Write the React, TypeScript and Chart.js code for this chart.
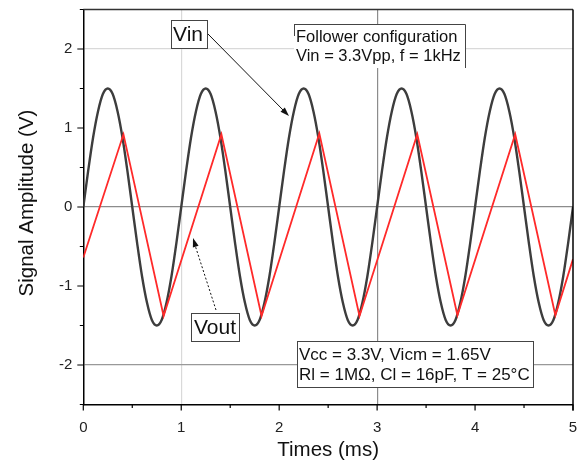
import { useEffect, useRef } from 'react';
import { Chart, registerables } from 'chart.js';

Chart.register(...registerables);

// ---- data ----
const VIN_STEP_MS = 0.05;
const vinValues = [
  0, 0.46, 0.88, 1.21, 1.43, 1.5, 1.43, 1.21, 0.88, 0.46,
  0, -0.46, -0.88, -1.21, -1.43, -1.5, -1.43, -1.21, -0.88, -0.46,
  0, 0.46, 0.88, 1.21, 1.43, 1.5, 1.43, 1.21, 0.88, 0.46,
  0, -0.46, -0.88, -1.21, -1.43, -1.5, -1.43, -1.21, -0.88, -0.46,
  0, 0.46, 0.88, 1.21, 1.43, 1.5, 1.43, 1.21, 0.88, 0.46,
  0, -0.46, -0.88, -1.21, -1.43, -1.5, -1.43, -1.21, -0.88, -0.46,
  0, 0.46, 0.88, 1.21, 1.43, 1.5, 1.43, 1.21, 0.88, 0.46,
  0, -0.46, -0.88, -1.21, -1.43, -1.5, -1.43, -1.21, -0.88, -0.46,
  0, 0.46, 0.88, 1.21, 1.43, 1.5, 1.43, 1.21, 0.88, 0.46,
  0, -0.46, -0.88, -1.21, -1.43, -1.5, -1.43, -1.21, -0.88, -0.46,
  0,
];
const voutTimes = [0, 0.41, 0.82, 1.41, 1.82, 2.41, 2.82, 3.41, 3.82, 4.41, 4.82, 5];
const voutValues = [-0.64, 0.92, -1.38, 0.92, -1.38, 0.93, -1.38, 0.92, -1.37, 0.92, -1.37, -0.66];

const xMajorTicks = [0, 1, 2, 3, 4, 5];
const xMinorTicks = [0.5, 1.5, 2.5, 3.5, 4.5];
const yMajorTicks = [-2, -1, 0, 1, 2];
const yMinorTicks = [-2.5, -1.5, -0.5, 0.5, 1.5, 2.5];

const xTitle = 'Times (ms)';
const yTitle = 'Signal Amplitude (V)';
const vinLabel = 'Vin';
const voutLabel = 'Vout';
const infoTopLines = ['Follower configuration', 'Vin = 3.3Vpp, f = 1kHz'];
const infoBottomLines = ['Vcc = 3.3V, Vicm = 1.65V', 'Rl = 1MΩ, Cl = 16pF, T = 25°C'];

const FONT = '"Liberation Sans", Arial, sans-serif';

function arrowHead(ctx: CanvasRenderingContext2D, x0: number, y0: number, x1: number, y1: number, len: number, w: number) {
  const a = Math.atan2(y1 - y0, x1 - x0);
  ctx.beginPath();
  ctx.moveTo(x1, y1);
  ctx.lineTo(x1 - len * Math.cos(a) + w * Math.sin(a), y1 - len * Math.sin(a) - w * Math.cos(a));
  ctx.lineTo(x1 - len * Math.cos(a) - w * Math.sin(a), y1 - len * Math.sin(a) + w * Math.cos(a));
  ctx.closePath();
  ctx.fill();
}

const decorPlugin = {
  id: 'decor',
  afterDraw(chart: any) {
    const { ctx, chartArea, scales } = chart;
    const { left, right, top, bottom } = chartArea;
    const xs = scales.x;
    const ys = scales.y;
    ctx.save();

    // frame top / right
    ctx.strokeStyle = '#333';
    ctx.lineWidth = 1.5;
    ctx.beginPath();
    ctx.moveTo(left, top);
    ctx.lineTo(right, top);
    ctx.stroke();
    ctx.strokeStyle = '#000';
    ctx.beginPath();
    ctx.moveTo(right, top);
    ctx.lineTo(right, bottom + 6);
    ctx.stroke();

    // ticks
    ctx.strokeStyle = '#000';
    ctx.lineWidth = 1.2;
    ctx.beginPath();
    for (const v of yMajorTicks) {
      const p = ys.getPixelForValue(v);
      ctx.moveTo(left - 6, p);
      ctx.lineTo(left, p);
    }
    for (const v of yMinorTicks) {
      const p = ys.getPixelForValue(v);
      ctx.moveTo(left - 3.5, p);
      ctx.lineTo(left, p);
    }
    for (const v of xMajorTicks) {
      const p = xs.getPixelForValue(v);
      ctx.moveTo(p, bottom);
      ctx.lineTo(p, bottom + 6);
    }
    for (const v of xMinorTicks) {
      const p = xs.getPixelForValue(v);
      ctx.moveTo(p, bottom);
      ctx.lineTo(p, bottom + 3.5);
    }
    ctx.stroke();

    // axis titles
    ctx.fillStyle = '#111';
    ctx.font = `20.5px ${FONT}`;
    ctx.textAlign = 'center';
    ctx.textBaseline = 'middle';
    ctx.fillText(xTitle, (left + right) / 2, 450);
    ctx.save();
    ctx.translate(27, 203);
    ctx.rotate(-Math.PI / 2);
    ctx.fillText(yTitle, 0, 0);
    ctx.restore();

    // boxes
    const box = (x: number, y: number, w: number, h: number) => {
      ctx.fillStyle = '#fff';
      ctx.fillRect(x, y, w, h);
      ctx.strokeStyle = '#444';
      ctx.lineWidth = 1;
      ctx.strokeRect(x + 0.5, y + 0.5, w, h);
    };
    ctx.textAlign = 'left';
    ctx.textBaseline = 'alphabetic';

    // Vin label
    box(171, 20, 36, 28);
    ctx.fillStyle = '#111';
    ctx.font = `21px ${FONT}`;
    ctx.fillText(vinLabel, 173, 41);

    // Vout label
    box(191, 313, 48, 28);
    ctx.fillStyle = '#111';
    ctx.font = `21px ${FONT}`;
    ctx.fillText(voutLabel, 194, 334);

    // top info box (top + right border)
    ctx.fillStyle = '#fff';
    ctx.fillRect(294, 24, 171, 44);
    ctx.strokeStyle = '#444';
    ctx.lineWidth = 1;
    ctx.beginPath();
    ctx.moveTo(294, 24.5);
    ctx.lineTo(465.5, 24.5);
    ctx.lineTo(465.5, 68);
    ctx.moveTo(294.5, 24);
    ctx.lineTo(294.5, 36);
    ctx.stroke();
    ctx.fillStyle = '#111';
    ctx.font = `16.5px ${FONT}`;
    ctx.fillText(infoTopLines[0], 296, 42);
    ctx.fillText(infoTopLines[1], 296, 61);

    // bottom info box
    box(297, 341, 236, 46);
    ctx.fillStyle = '#111';
    ctx.font = `17px ${FONT}`;
    ctx.fillText(infoBottomLines[0], 299, 360);
    ctx.fillText(infoBottomLines[1], 299, 380);

    // Vin arrow (solid)
    ctx.strokeStyle = '#111';
    ctx.fillStyle = '#111';
    ctx.lineWidth = 1;
    ctx.beginPath();
    ctx.moveTo(208, 34);
    ctx.lineTo(286, 113);
    ctx.stroke();
    arrowHead(ctx, 208, 34, 289, 116, 9, 3);

    // Vout arrow (dotted)
    ctx.setLineDash([2, 2]);
    ctx.beginPath();
    ctx.moveTo(216, 310);
    ctx.lineTo(194, 242);
    ctx.stroke();
    ctx.setLineDash([]);
    arrowHead(ctx, 216, 310, 193, 238, 9, 3);

    ctx.restore();
  },
};

export default function App() {
  const ref = useRef<HTMLCanvasElement>(null);
  useEffect(() => {
    document.body.style.margin = '0';
    const vinData = vinValues.map((v, i) => ({ x: i * VIN_STEP_MS, y: v }));
    const voutData = voutValues.map((v, i) => ({ x: voutTimes[i], y: v }));
    const chart = new Chart(ref.current as HTMLCanvasElement, {
      type: 'line',
      data: {
        datasets: [
          {
            label: 'Vin',
            data: vinData,
            borderColor: '#3d3d3d',
            borderWidth: 2.4,
            pointRadius: 0,
            cubicInterpolationMode: 'monotone',
            fill: false,
            order: 2,
          },
          {
            label: 'Vout',
            data: voutData,
            borderColor: '#ff2a2a',
            borderWidth: 1.8,
            pointRadius: 0,
            tension: 0,
            fill: false,
            order: 1,
          },
        ],
      },
      options: {
        animation: false,
        responsive: false,
        devicePixelRatio: 1,
        events: [],
        layout: { padding: { top: 9.5, right: 11, left: 0, bottom: 0 } },
        plugins: { legend: { display: false }, tooltip: { enabled: false } },
        scales: {
          x: {
            type: 'linear',
            min: 0,
            max: 5,
            afterBuildTicks: (s: any) => {
              s.ticks = xMajorTicks.map((v) => ({ value: v }));
            },
            afterFit: (s: any) => {
              s.height = 62.5;
              s.paddingLeft = 0;
              s.paddingRight = 0;
            },
            ticks: {
              font: { family: FONT, size: 15 },
              color: '#222',
              padding: 14,
              maxRotation: 0,
              callback: (v: any) => String(v),
            },
            grid: {
              drawTicks: false,
              lineWidth: 1.2,
              color: (c: any) => {
                const v = c.tick ? c.tick.value : null;
                if (v === 1) return '#d9d9d9';
                if (v === 3) return '#8c8c8c';
                return 'rgba(0,0,0,0)';
              },
            },
            border: { display: true, color: '#000', width: 1.5 },
          },
          y: {
            type: 'linear',
            min: -2.5,
            max: 2.5,
            afterBuildTicks: (s: any) => {
              s.ticks = yMajorTicks.map((v) => ({ value: v }));
            },
            afterFit: (s: any) => {
              s.width = 83.3;
              s.paddingTop = 0;
              s.paddingBottom = 0;
            },
            ticks: {
              font: { family: FONT, size: 15 },
              color: '#222',
              padding: 11,
              callback: (v: any) => String(v),
            },
            grid: {
              drawTicks: false,
              lineWidth: 1.2,
              color: (c: any) => {
                const v = c.tick ? c.tick.value : null;
                if (v === 2) return '#d9d9d9';
                if (v === 0) return '#8c8c8c';
                if (v === -2) return '#999999';
                return 'rgba(0,0,0,0)';
              },
            },
            border: { display: true, color: '#000', width: 1.5 },
          },
        },
      },
      plugins: [decorPlugin],
    } as any);
    return () => chart.destroy();
  }, []);
  return (
    <div style={{ width: 584, height: 467 }}>
      <canvas ref={ref} width={584} height={467} style={{ display: 'block' }} />
    </div>
  );
}
